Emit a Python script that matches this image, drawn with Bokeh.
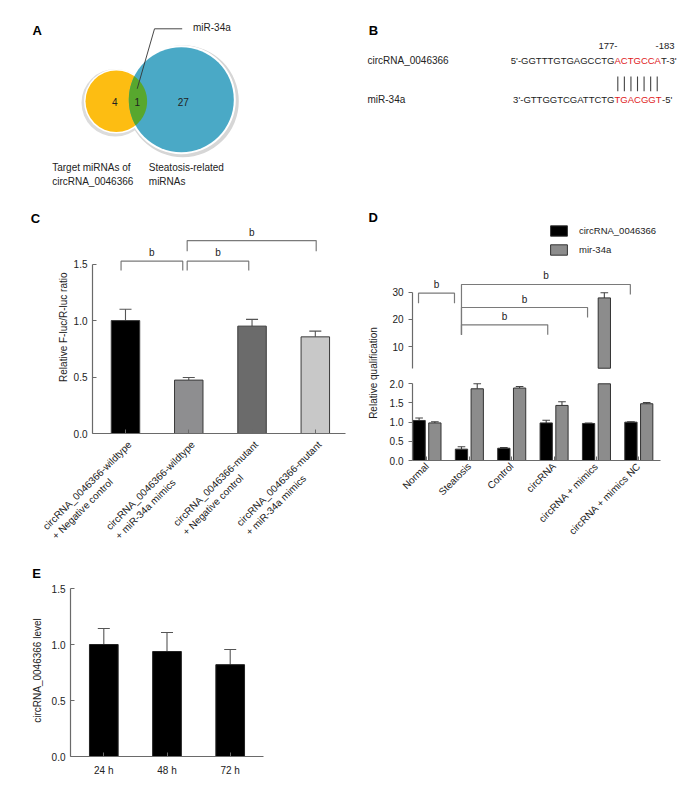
import numpy as np
from math import pi
from bokeh.plotting import figure
from bokeh.layouts import column, row
from bokeh.models import (Range1d, FixedTicker, Legend, LegendItem,
                          NumeralTickFormatter)
from bokeh.core.properties import value
from bokeh.embed import file_html
from bokeh.resources import INLINE

FONT = "Liberation Sans"
TXT = "#222222"
AX = "#6a6a6a"

# ---------------- data ----------------
# Panel A (Venn)
venn_counts = ["4", "1", "27"]
venn_caption_left = ["Target miRNAs of", "circRNA_0046366"]
venn_caption_right = ["Steatosis-related", "miRNAs"]
venn_shared = "miR-34a"

# Panel B (binding site)
b_names = ["circRNA_0046366", "miR-34a"]
b_seq_head = ["5'-GGTTTGTGAGCCTG", "3'-GTTGGTCGATTCTG"]
b_seq_site = ["ACTGCCA", "TGACGGT"]
b_seq_tail = ["T-3'", "-5'"]
b_site_pos = ["177-", "-183"]

# Panel C
c_labels = ["circRNA_0046366-wildtype\n+ Negative control",
            "circRNA_0046366-wildtype\n+ miR-34a mimics",
            "circRNA_0046366-mutant\n+ Negative control",
            "circRNA_0046366-mutant\n+ miR-34a mimics"]
c_values = [1.00, 0.473, 0.951, 0.856]
c_errors = [0.10, 0.023, 0.060, 0.051]
c_colors = ["#000000", "#8e8e90", "#6b6b6b", "#c8c8c8"]
c_ylabel = "Relative F-luc/R-luc ratio"
c_brk_x0 = [-0.07, 0.975, 0.975]
c_brk_x1 = [0.905, 1.948, 3.014]
c_brk_y = [1.526, 1.526, 1.709]
c_brk_drop = [1.444, 1.444, 1.615]

# Panel D
d_groups = ["Normal", "Steatosis", "Control", "circRNA",
            "circRNA + mimics", "circRNA + mimics NC"]
d_series = ["circRNA_0046366", "mir-34a"]
d_circ = [1.044, 0.296, 0.320, 0.980, 0.966, 1.000]
d_circ_err = [0.066, 0.061, 0.020, 0.070, 0.009, 0.010]
d_mir = [0.980, 1.870, 1.890, 1.436, 27.9, 1.480]
d_mir_err = [0.030, 0.130, 0.040, 0.094, 1.9, 0.030]
d_ylabel = "Relative qualification"
d_break = 2.0
d_brk_x0 = [-0.20, 0.814, 0.814, 0.814]
d_brk_x1 = [0.649, 4.80, 3.79, 2.85]
d_brk_y = [29.63, 32.84, 24.36, 18.0]
d_brk_ldrop = [25.95, 14.31, 14.31, 14.31]
d_brk_rdrop = [25.95, 29.15, 20.68, 14.31]

# Panel E
e_labels = ["24 h", "48 h", "72 h"]
e_values = [1.00, 0.9375, 0.82]
e_errors = [0.143, 0.170, 0.135]
e_ylabel = "circRNA_0046366 level"


# ---------------- helpers ----------------
def canvas(w, h, x0, y0, mbt=0, mbb=0):
    """Blank drawing area whose data units are page pixels (y downwards)."""
    p = figure(width=w, height=h, x_range=Range1d(x0, x0 + w),
               y_range=Range1d(y0 + h - mbb, y0 + mbt), output_backend="svg",
               toolbar_location=None, min_border_left=0, min_border_right=0,
               min_border_top=mbt, min_border_bottom=mbb,
               x_axis_location=None, y_axis_location=None)
    p.outline_line_color = None
    p.grid.visible = False
    return p


def txt(p, xs, ys, texts, size="10px", align="left", baseline="middle",
        color=TXT, style="normal", **kw):
    p.text(x=xs, y=ys, text=texts, text_font=value(FONT),
           text_font_size=size, text_align=align, text_baseline=baseline,
           text_color=color, text_font_style=style, **kw)


def letter(p, x, y, s):
    txt(p, [x], [y], [s], size="13px", align="center", style="bold",
        color="#000000")


def vlabel(p, x, y, s):
    txt(p, [x], [y], [s], align="center", angle=pi / 2)


def style_axis(ax, tick_in=4, tick_out=0):
    ax.axis_line_color = AX
    ax.axis_line_width = 1.2
    ax.major_tick_line_color = AX
    ax.major_tick_in = tick_in
    ax.major_tick_out = tick_out
    ax.minor_tick_line_color = None
    ax.major_label_text_font = FONT
    ax.major_label_text_font_size = "10px"
    ax.major_label_text_color = TXT


def chart(w, h, fl, fr, ft, fb, xr, yr, **kw):
    p = figure(width=w, height=h, x_range=xr, y_range=yr,
               output_backend="svg", toolbar_location=None,
               min_border_left=fl, min_border_right=fr,
               min_border_top=ft, min_border_bottom=fb, **kw)
    p.outline_line_color = None
    p.grid.visible = False
    return p


def errbars(p, x, v, e, half, color="#555555", **kw):
    p.segment(x0=x, y0=v, x1=x, y1=v + e, line_color=color, line_width=1.1, **kw)
    p.segment(x0=x - half, y0=v + e, x1=x + half, y1=v + e, line_color=color,
              line_width=1.1, **kw)


# ---------------- Panel A ----------------
pA = canvas(345, 195, 0, 0)
yc, yr_ = (115.8, 100.8), 30.8
bc, br_ = (180.8, 99.2), 52.5
pA.circle(x=[bc[0] + 1.5], y=[bc[1] + 1.5], radius=br_ + 3.5,
          fill_color="#d6d6d6", line_color=None)
pA.circle(x=[yc[0] - 1.0], y=[yc[1] + 1.5], radius=yr_ + 3.0,
          fill_color="#dcdcdc", line_color=None)
pA.circle(x=[bc[0]], y=[bc[1]], radius=br_ + 2.0, fill_color="white",
          line_color=None)
pA.circle(x=[yc[0]], y=[yc[1]], radius=yr_ + 1.5, fill_color="white",
          line_color=None)
pA.circle(x=[yc[0]], y=[yc[1]], radius=yr_, fill_color="#fdbd12",
          line_color=None)
pA.circle(x=[bc[0]], y=[bc[1]], radius=br_, fill_color="#4aa9c6",
          line_color=None)


def lens(c1, r1, c2, r2, n=60):
    (x1, y1), (x2, y2) = c1, c2
    d = np.hypot(x2 - x1, y2 - y1)
    a = (r1 ** 2 - r2 ** 2 + d ** 2) / (2 * d)
    h = np.sqrt(r1 ** 2 - a ** 2)
    th = np.arctan2(y2 - y1, x2 - x1)
    a1 = np.arctan2(h, a)
    a2 = np.arctan2(h, d - a)
    t1 = np.linspace(th - a1, th + a1, n)
    t2 = np.linspace(th + np.pi - a2, th + np.pi + a2, n)
    xs = np.concatenate([x1 + r1 * np.cos(t1), x2 + r2 * np.cos(t2)])
    ys = np.concatenate([y1 + r1 * np.sin(t1), y2 + r2 * np.sin(t2)])
    return xs, ys


lx, ly = lens(yc, yr_, bc, br_)
pA.patch(x=lx, y=ly, fill_color="#58a72e", line_color=None)
txt(pA, [114.3, 136.7, 182.7], [101, 101, 101], venn_counts, align="center")
pA.line(x=[136.7, 154.0, 181.7], y=[88.3, 28.3, 28.3], line_color="#333333",
        line_width=0.9)
txt(pA, [192.5], [27], [venn_shared])
txt(pA, [51.7, 51.7], [166.7, 181], venn_caption_left)
txt(pA, [148.3, 148.3], [166.7, 181], venn_caption_right)
letter(pA, 36.7, 29.5, "A")

# ---------------- Panel B ----------------
pB = canvas(350, 195, 345, 0)
letter(pB, 373, 30, "B")
row_y = [60, 99]
txt(pB, [367, 367], row_y, b_names)
txt(pB, [614, 614], row_y, b_seq_head, size="9.5px", align="right")
txt(pB, [614, 614], row_y, b_seq_site, size="9.5px", color="#e0201b")
txt(pB, [660.5, 661.5], row_y, b_seq_tail, size="9.5px")
txt(pB, [617, 655], [45, 45], b_site_pos, size="9.5px",
    align=["right", "left"])
pair_x = 617.3 + 6.57 * np.arange(len(b_seq_site[0]))
pB.segment(x0=pair_x, y0=76, x1=pair_x, y1=90.7, line_color="#444444",
           line_width=1.1)

# ---------------- Panel C ----------------
# page px: frame left 92, right 345, top 195, bottom 433
stripC = canvas(70, 243, 0, 195, mbt=0, mbb=5)
letter(stripC, 35, 218, "C")
vlabel(stripC, 63, 326.7, c_ylabel)

cx = np.arange(len(c_values), dtype=float)
c_pitch = 63.3
c_xr = Range1d(-(125 - 92) / c_pitch, 3 + (345 - 314.8) / c_pitch)
c_yr = Range1d(0, (433 - 195) / 112.9)
pC = chart(285, 243, 22, 10, 0, 5, c_xr, c_yr)
cv = np.array(c_values)
ce = np.array(c_errors)
errbars(pC, cx, cv, ce, 0.095)
pC.vbar(x=cx, top=cv, width=0.45, fill_color=c_colors, line_color="#3a3a3a",
        line_width=1)
pC.multi_line(xs=[[a, a, b, b] for a, b in zip(c_brk_x0, c_brk_x1)],
              ys=[[d, y, y, d] for y, d in zip(c_brk_y, c_brk_drop)],
              line_color="#7a7a7a", line_width=1.2)
txt(pC, [(a + b) / 2 for a, b in zip(c_brk_x0, c_brk_x1)], c_brk_y,
    ["b"] * len(c_brk_y), align="center", baseline="bottom", y_offset=-3)
style_axis(pC.yaxis[0])
pC.yaxis.bounds = (0, 1.5)
pC.yaxis.ticker = FixedTicker(ticks=[0, 0.5, 1.0, 1.5])
pC.yaxis.formatter = NumeralTickFormatter(format="0.0")
style_axis(pC.xaxis[0])
pC.xaxis.ticker = FixedTicker(ticks=list(cx))
pC.xaxis.major_label_overrides = {float(i): "" for i in range(len(c_labels))}
pC.xaxis.major_label_text_font_size = "1px"
pC.xaxis.major_label_standoff = 0
# two-line category labels, drawn on the same x scale (same px per unit),
# lines left-aligned and the block ending at each tick
pClab = chart(355, 122, 0, 0, 0, 0,
              Range1d(c_xr.start - 92 / c_pitch, c_xr.end + 10 / c_pitch),
              Range1d(560, 438), x_axis_location=None, y_axis_location=None)
txt(pClab, cx, [447] * len(cx), c_labels, align="left", anchor="center_right",
    angle=pi / 4, x_offset=9)

# ---------------- Panel D ----------------
# page px: frame left 412, right 660; upper part 195-369, lower part 381-460
stripD = canvas(30, 365, 355, 195, mbt=0, mbb=100)
letter(stripD, 372.7, 216.7, "D")
vlabel(stripD, 373, 372.5, d_ylabel)

d_pitch = 42.4
d_c0 = 426.5
d_xr = Range1d((412 - d_c0) / d_pitch, 5 + (660 - 638.3) / d_pitch)
low_px = 38.35          # px per unit, lower segment (0 at 460)
up_px = 2.715           # px per unit, upper segment (30 at 291.7)
up_ref = 291.7 + 30 * up_px
pDu = chart(310, 174, 27, 35, 0, 0, d_xr,
            Range1d((up_ref - 369) / up_px, (up_ref - 195) / up_px),
            x_axis_location=None)
pDl = chart(310, 191, 27, 35, 12, 100, d_xr,
            Range1d(0, (460 - 381) / low_px))

dx = np.arange(len(d_groups), dtype=float)
off, bw = 0.186, 0.29
circ = np.array(d_circ)
circ_e = np.array(d_circ_err)
mir = np.array(d_mir)
mir_e = np.array(d_mir_err)
big = mir > d_break
err_col = "#444444"
bar_kw = dict(width=bw, line_color="#333333", line_width=1)
errbars(pDl, dx - off, circ, circ_e, 0.09, color=err_col)
errbars(pDl, (dx + off)[~big], mir[~big], mir_e[~big], 0.09, color=err_col)
errbars(pDu, (dx + off)[big], mir[big], mir_e[big], 0.09, color=err_col)
# lower segment (0 - 2)
pDl.vbar(x=dx - off, top=circ, fill_color="#000000", **bar_kw)
pDl.vbar(x=dx + off, top=np.minimum(mir, d_break), fill_color="#8c8c8c", **bar_kw)
# upper segment (2 - 30); values below the break fall outside this panel's range
r_black = pDu.vbar(x=dx - off, top=circ, fill_color="#000000", **bar_kw)
r_gray = pDu.vbar(x=(dx + off)[big], bottom=d_break, top=mir[big],
                  fill_color="#8c8c8c", **bar_kw)
pDu.multi_line(xs=[[a, a, b, b] for a, b in zip(d_brk_x0, d_brk_x1)],
               ys=[[l, y, y, r] for y, l, r in zip(d_brk_y, d_brk_ldrop, d_brk_rdrop)],
               line_color="#7a7a7a", line_width=1.2)
txt(pDu, [(a + b) / 2 for a, b in zip(d_brk_x0, d_brk_x1)], d_brk_y,
    ["b"] * len(d_brk_y), align="center", baseline="bottom", y_offset=-3)

style_axis(pDu.yaxis[0], tick_in=0, tick_out=4)
pDu.yaxis.bounds = (d_break, 30)
pDu.yaxis.ticker = FixedTicker(ticks=[10, 20, 30])
style_axis(pDl.yaxis[0], tick_in=0, tick_out=4)
pDl.yaxis.bounds = (0, d_break)
pDl.yaxis.ticker = FixedTicker(ticks=[0, 0.5, 1.0, 1.5, 2.0])
pDl.yaxis.formatter = NumeralTickFormatter(format="0.0")
style_axis(pDl.xaxis[0])
pDl.xaxis.ticker = FixedTicker(ticks=list(dx))
pDl.xaxis.major_label_overrides = {float(i): s for i, s in enumerate(d_groups)}
pDl.xaxis.major_label_orientation = pi / 4
pDl.xaxis.major_label_standoff = 4

legend = Legend(items=[LegendItem(label=d_series[0], renderers=[r_black]),
                       LegendItem(label=d_series[1], renderers=[r_gray])],
                location=(548 - 412, 369 - 256), glyph_width=21,
                glyph_height=13, spacing=6, padding=0, margin=0,
                label_standoff=10, border_line_color=None,
                background_fill_alpha=0, label_text_font=FONT,
                label_text_font_size="9.5px", label_text_color=TXT)
pDu.add_layout(legend)

# ---------------- Panel E ----------------
# page px: frame left 70, right 263, top 560, bottom 756
stripE = canvas(48, 226, 0, 560, mbt=0, mbb=30)
letter(stripE, 36, 573, "E")
vlabel(stripE, 37, 670, e_ylabel)

e_pitch = 63.2
e_xr = Range1d(-(103.3 - 70) / e_pitch, 2 + (263 - 229.7) / e_pitch)
pE = chart(307, 226, 22, 92, 0, 30, e_xr, Range1d(0, (756 - 560) / 112.0))
ex = np.arange(len(e_values), dtype=float)
ev = np.array(e_values)
ee = np.array(e_errors)
errbars(pE, ex, ev, ee, 0.095)
pE.vbar(x=ex, top=ev, width=0.454, fill_color="#000000", line_color="#222222")
style_axis(pE.yaxis[0])
pE.yaxis.bounds = (0, 1.5)
pE.yaxis.ticker = FixedTicker(ticks=[0, 0.5, 1.0, 1.5])
pE.yaxis.formatter = NumeralTickFormatter(format="0.0")
style_axis(pE.xaxis[0])
pE.xaxis.ticker = FixedTicker(ticks=list(ex))
pE.xaxis.major_label_overrides = {float(i): s for i, s in enumerate(e_labels)}
pE.xaxis.major_label_standoff = 8

layout = column(row(pA, pB),
                row(column(row(stripC, pC), pClab),
                    row(stripD, column(pDu, pDl))),
                row(stripE, pE))
open("out.html", "w").write(file_html(layout, INLINE))
